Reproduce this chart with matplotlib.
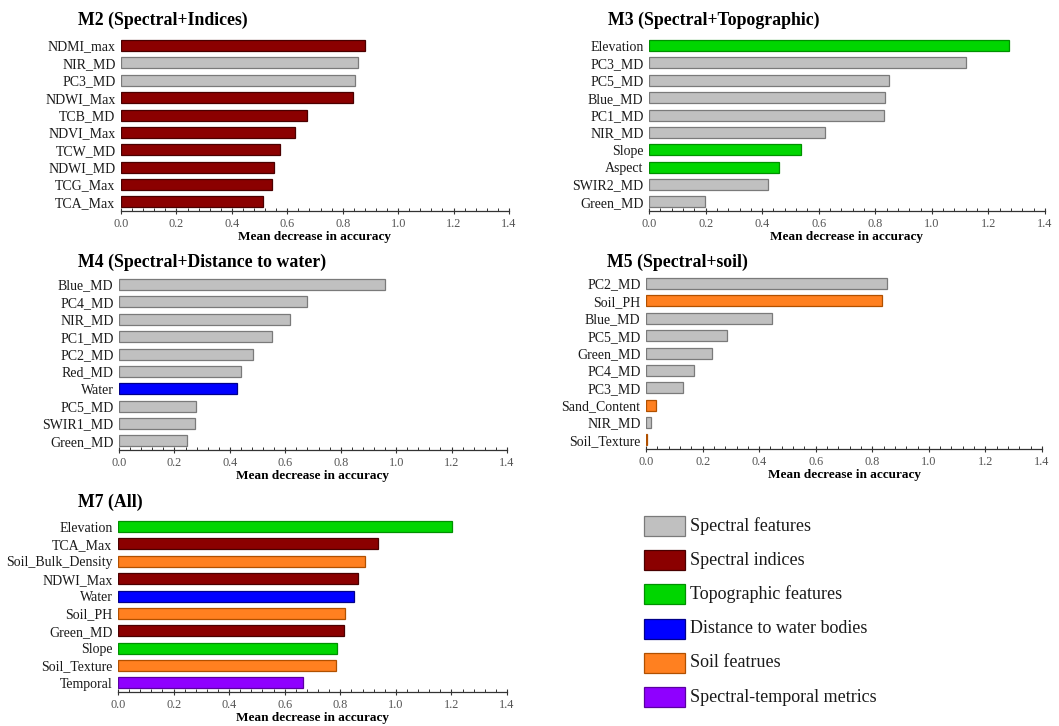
import matplotlib
matplotlib.use('Agg')
import matplotlib.pyplot as plt
from matplotlib.patches import Rectangle
from matplotlib.ticker import MultipleLocator

plt.rcParams['font.family'] = ['Liberation Serif', 'DejaVu Serif']

# colores por tipo de variable
grupos = ['Spectral features', 'Spectral indices', 'Topographic features',
          'Distance to water bodies', 'Soil featrues', 'Spectral-temporal metrics']
colores = ['#C0C0C0', '#8B0000', '#00D600', '#0000FF', '#FF8020', '#8F00FF']
bordes = ['#7a7a7a', '#4a0000', '#009000', '#00008a', '#b05000', '#5a00a0']

# M2 (Spectral+Indices)
m2_vars = ['NDMI_max', 'NIR_MD', 'PC3_MD', 'NDWI_Max', 'TCB_MD', 'NDVI_Max',
           'TCW_MD', 'NDWI_MD', 'TCG_Max', 'TCA_Max']
m2_vals = [0.880, 0.855, 0.845, 0.836, 0.671, 0.627, 0.574, 0.553, 0.545, 0.513]
m2_tipo = [1, 0, 0, 1, 1, 1, 1, 1, 1, 1]

# M3 (Spectral+Topographic)
m3_vars = ['Elevation', 'PC3_MD', 'PC5_MD', 'Blue_MD', 'PC1_MD', 'NIR_MD',
           'Slope', 'Aspect', 'SWIR2_MD', 'Green_MD']
m3_vals = [1.273, 1.121, 0.850, 0.834, 0.831, 0.622, 0.536, 0.460, 0.420, 0.197]
m3_tipo = [2, 0, 0, 0, 0, 0, 2, 2, 0, 0]

# M4 (Spectral+Distance to water)
m4_vars = ['Blue_MD', 'PC4_MD', 'NIR_MD', 'PC1_MD', 'PC2_MD', 'Red_MD',
           'Water', 'PC5_MD', 'SWIR1_MD', 'Green_MD']
m4_vals = [0.960, 0.677, 0.617, 0.553, 0.482, 0.440, 0.426, 0.279, 0.274, 0.245]
m4_tipo = [0, 0, 0, 0, 0, 0, 3, 0, 0, 0]

# M5 (Spectral+soil)
m5_vars = ['PC2_MD', 'Soil_PH', 'Blue_MD', 'PC5_MD', 'Green_MD', 'PC4_MD',
           'PC3_MD', 'Sand_Content', 'NIR_MD', 'Soil_Texture']
m5_vals = [0.852, 0.833, 0.445, 0.286, 0.233, 0.171, 0.130, 0.035, 0.016, 0.004]
m5_tipo = [0, 4, 0, 0, 0, 0, 0, 4, 0, 4]

# M7 (All)
m7_vars = ['Elevation', 'TCA_Max', 'Soil_Bulk_Density', 'NDWI_Max', 'Water',
           'Soil_PH', 'Green_MD', 'Slope', 'Soil_Texture', 'Temporal']
m7_vals = [1.203, 0.937, 0.888, 0.865, 0.851, 0.817, 0.815, 0.787, 0.785, 0.666]
m7_tipo = [2, 1, 4, 1, 3, 4, 1, 2, 4, 5]

W, H = 1059, 726
fig = plt.figure(figsize=(W / 100, H / 100), dpi=100)


def panel(izq, arriba, der, abajo, titulo, tx, ty, variables, valores, tipos):
    'Dibuja un panel de barras horizontales en coordenadas de pixeles'
    ax = fig.add_axes([izq / W, 1 - abajo / H, (der - izq) / W, (abajo - arriba) / H])
    y = list(range(len(variables)))
    ax.barh(y, valores, height=0.63,
            color=[colores[t] for t in tipos],
            edgecolor=[bordes[t] for t in tipos], linewidth=0.9)
    ax.set_yticks(y)
    ax.set_yticklabels(variables, fontsize=10, color='#1a1a1a')
    ax.set_ylim(9.52, -0.49)
    ax.set_xlim(0, 1.4)
    ax.xaxis.set_major_locator(MultipleLocator(0.2))
    ax.xaxis.set_minor_locator(MultipleLocator(0.04))
    ax.set_xticklabels([f'{v:.1f}' for v in ax.get_xticks()], fontsize=8.8, color='#555555')
    ax.tick_params(axis='y', length=0, pad=4)
    ax.tick_params(axis='x', which='major', direction='inout', length=5, width=0.8,
                   color='#333333', pad=2.5)
    ax.tick_params(axis='x', which='minor', direction='in', length=2.5, width=0.7,
                   color='#333333')
    for s in ['left', 'top', 'right']:
        ax.spines[s].set_visible(False)
    ax.spines['bottom'].set_color('#333333')
    ax.spines['bottom'].set_linewidth(0.9)
    ax.set_xlabel('Mean decrease in accuracy', fontsize=9.5, fontweight='bold', labelpad=1)
    fig.text(tx / W, 1 - ty / H, titulo, fontsize=12.8, fontweight='bold',
             ha='left', va='center')
    return ax


panel(121, 37, 509, 211, 'M2 (Spectral+Indices)', 78, 20, m2_vars, m2_vals, m2_tipo)
panel(649, 37, 1045, 211, 'M3 (Spectral+Topographic)', 608, 20, m3_vars, m3_vals, m3_tipo)
panel(119, 276, 507, 450, 'M4 (Spectral+Distance to water)', 78, 262, m4_vars, m4_vals, m4_tipo)
panel(646, 275, 1042, 449, 'M5 (Spectral+soil)', 607, 262, m5_vars, m5_vals, m5_tipo)
panel(118, 518, 507, 692, 'M7 (All)', 78, 502, m7_vars, m7_vals, m7_tipo)

# leyenda hecha a mano
for i, (g, c, b) in enumerate(zip(grupos, colores, bordes)):
    y0 = 516 + 34.2 * i
    fig.add_artist(Rectangle((644 / W, 1 - (y0 + 20) / H), 41 / W, 20 / H,
                             transform=fig.transFigure, facecolor=c, edgecolor=b,
                             linewidth=0.9))
    fig.text(690 / W, 1 - (y0 + 10) / H, g, fontsize=13, ha='left', va='center',
             color='#1a1a1a')

fig.savefig('out.png', dpi=100)
